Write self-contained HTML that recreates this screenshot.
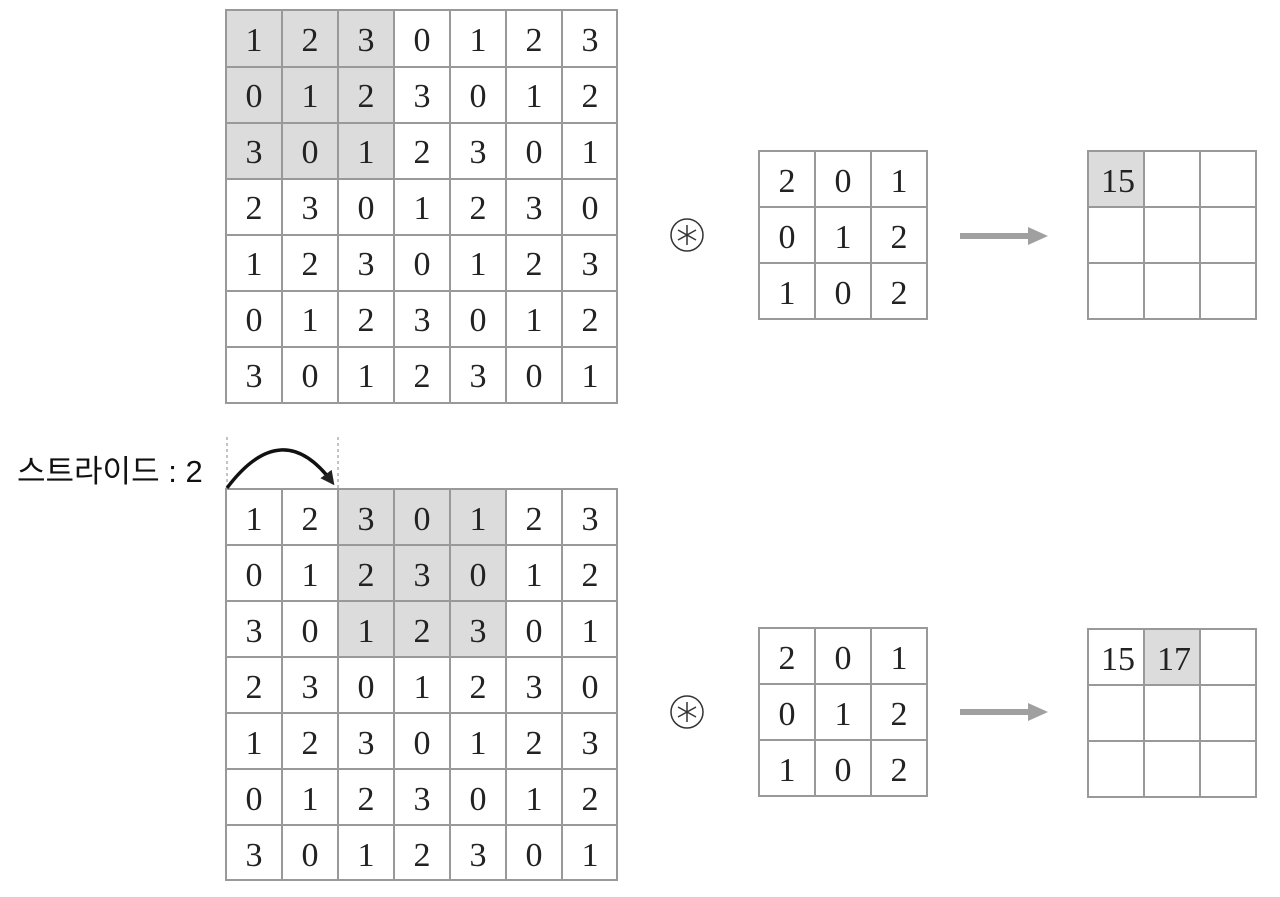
<!DOCTYPE html>
<html><head><meta charset="utf-8"><style>
html,body{margin:0;padding:0;background:#fff;}
svg{display:block;}
.d{font-family:"Liberation Serif",serif;font-size:34px;fill:#222;text-anchor:middle;}
</style></head><body>
<svg width="1280" height="897" viewBox="0 0 1280 897" xmlns="http://www.w3.org/2000/svg">
<defs>
<marker id="ah" markerWidth="14" markerHeight="14" refX="10" refY="7" orient="auto" markerUnits="userSpaceOnUse">
<path d="M0,0 L14,7 L0,14 Z" fill="#222"/>
</marker>
</defs>
<g>
<rect x="226" y="10" width="168" height="169" fill="#dcdcdc"/>
<rect x="338" y="489" width="168" height="168" fill="#dcdcdc"/>
<rect x="1088" y="151" width="56" height="56" fill="#dcdcdc"/>
<rect x="1144" y="629" width="56" height="56" fill="#dcdcdc"/>
</g>
<g stroke="#999" stroke-width="2" fill="none">
<rect x="226" y="10" width="391" height="393"/>
<path d="M282 10V403M338 10V403M394 10V403M450 10V403M506 10V403M562 10V403
M226 67H617M226 123H617M226 179H617M226 235H617M226 291H617M226 347H617"/>
<rect x="226" y="489" width="391" height="391"/>
<path d="M282 489V880M338 489V880M394 489V880M450 489V880M506 489V880M562 489V880
M226 545H617M226 601H617M226 657H617M226 713H617M226 769H617M226 825H617"/>
<rect x="759" y="151" width="168" height="168"/>
<path d="M815 151V319M871 151V319M759 207H927M759 263H927"/>
<rect x="759" y="628" width="168" height="168"/>
<path d="M815 628V796M871 628V796M759 684H927M759 740H927"/>
<rect x="1088" y="151" width="168" height="168"/>
<path d="M1144 151V319M1200 151V319M1088 207H1256M1088 263H1256"/>
<rect x="1088" y="629" width="168" height="168"/>
<path d="M1144 629V797M1200 629V797M1088 685H1256M1088 741H1256"/>
</g>
<g class="d" id="t"></g>
<g stroke="#333" stroke-width="1.5" fill="none">
<circle cx="687" cy="235" r="16"/>
<circle cx="687" cy="712" r="16"/>
<path d="M687 225V245M678 230L696 240M678 240L696 230"/>
<path d="M687 702V722M678 707L696 717M678 717L696 707"/>
</g>
<g fill="#a0a0a0">
<rect x="960" y="233" width="72" height="6"/>
<path d="M1028 227L1048 236L1028 245Z"/>
<rect x="960" y="709" width="72" height="6"/>
<path d="M1028 703L1048 712L1028 721Z"/>
</g>
<g stroke="#888" stroke-width="1" stroke-dasharray="3,3">
<path d="M227 437V489M338 437V489"/>
</g>
<path d="M227 488 Q282 415 332 482" stroke="#111" stroke-width="3.5" fill="none" marker-end="url(#ah)"/>
<text x="17" y="482" font-family="'Liberation Sans','Noto Sans CJK KR',sans-serif" font-size="31" fill="#111">스트라이드 : 2</text>
<script>
var g=document.getElementById('t');
var M=[[1,2,3,0,1,2,3],[0,1,2,3,0,1,2],[3,0,1,2,3,0,1],[2,3,0,1,2,3,0],[1,2,3,0,1,2,3],[0,1,2,3,0,1,2],[3,0,1,2,3,0,1]];
var K=[[2,0,1],[0,1,2],[1,0,2]];
function t(x,y,s){var e=document.createElementNS('http://www.w3.org/2000/svg','text');e.setAttribute('x',x);e.setAttribute('y',y);e.textContent=s;g.appendChild(e);}
for(var r=0;r<7;r++)for(var c=0;c<7;c++){t(254+56*c,51+56*r,M[r][c]);t(254+56*c,530+56*r,M[r][c]);}
for(var r=0;r<3;r++)for(var c=0;c<3;c++){t(787+56*c,192+56*r,K[r][c]);t(787+56*c,669+56*r,K[r][c]);}
t(1118,192,'15');t(1118,670,'15');t(1174,670,'17');
</script>
</svg>
</body></html>
